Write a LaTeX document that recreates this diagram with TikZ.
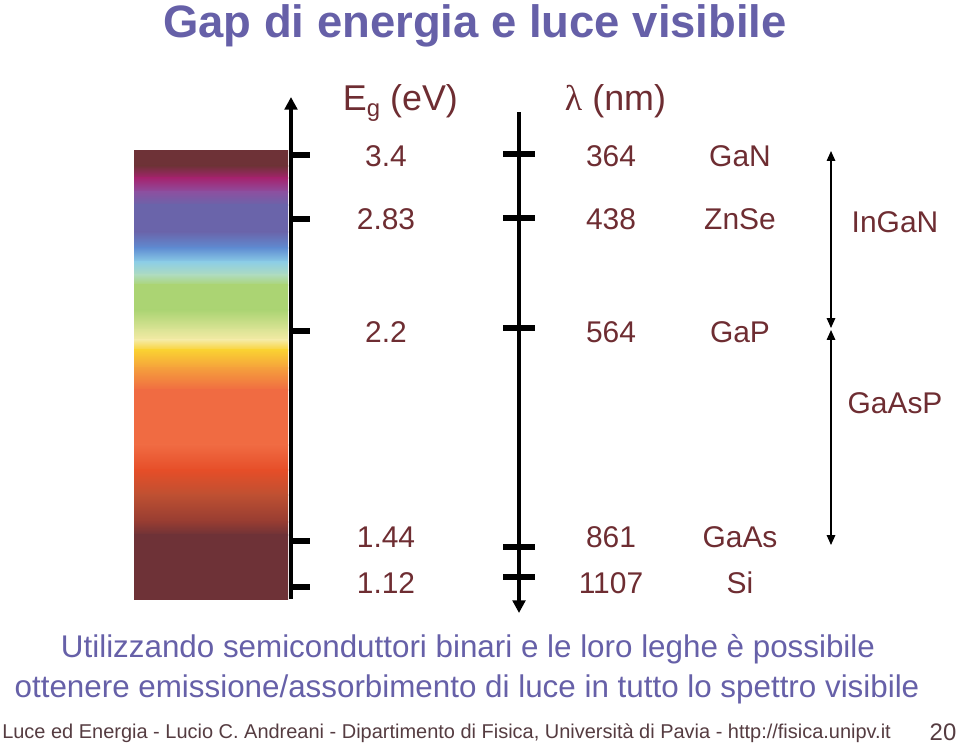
\documentclass[tikz,border=0pt]{standalone}
\usepackage{fontspec}
\setmainfont{Liberation Sans}
\newfontfamily\lamfont{Liberation Serif}
\usetikzlibrary{arrows.meta}
\definecolor{titleblue}{RGB}{102,96,168}
\definecolor{labelred}{RGB}{110,45,50}
\definecolor{footgray}{RGB}{85,60,65}
% spectrum colours
\definecolor{spMaroon}{RGB}{110,50,55}
\definecolor{spMagenta}{RGB}{165,35,110}
\definecolor{spPurple}{RGB}{140,80,160}
\definecolor{spViolet}{RGB}{106,100,170}
\definecolor{spBlue}{RGB}{95,140,210}
\definecolor{spLightBlue}{RGB}{140,205,230}
\definecolor{spCyan}{RGB}{175,220,190}
\definecolor{spGreen}{RGB}{171,212,115}
\definecolor{spLime}{RGB}{220,228,150}
\definecolor{spPale}{RGB}{245,235,165}
\definecolor{spYellow}{RGB}{250,210,50}
\definecolor{spOrange}{RGB}{245,160,60}
\definecolor{spSalmon}{RGB}{240,107,66}
\definecolor{spRed}{RGB}{230,78,40}
\definecolor{spBrownRed}{RGB}{190,80,50}
\definecolor{spBrown}{RGB}{150,60,50}

\begin{document}
\begin{tikzpicture}[x=0.025cm, y=-0.025cm,
  lbl/.style={text=labelred, font=\fontsize{21.3}{25}\selectfont, anchor=base},
  hdr/.style={text=labelred, font=\fontsize{25.5}{30}\selectfont, anchor=base west},
  body/.style={text=titleblue, font=\fontsize{22.3}{26}\selectfont, anchor=base},
  foot/.style={text=footgray, font=\fontsize{14.2}{17}\selectfont},
  axis/.style={line width=3.3pt},
  tickmark/.style={line width=3.6pt},
  rangearrow/.style={line width=1pt,
    {Triangle[length=7pt,width=6pt]}-{Triangle[length=7pt,width=6pt]}}]
  \useasboundingbox (0,0) rectangle (960,746);
  % Title
  \node[anchor=base, text=titleblue, font=\fontsize{32.3}{38}\selectfont\bfseries]
        (title) at (475,37) {Gap di energia e luce visibile};
  % Spectrum
  \foreach \ya/\ca/\yb/\cb in {151/spMaroon/166/spMaroon, 166/spMaroon/178/spMagenta,
      178/spMagenta/192/spPurple, 192/spPurple/205/spViolet, 205/spViolet/232/spViolet,
      232/spViolet/248/spBlue, 248/spBlue/262/spLightBlue, 262/spLightBlue/275/spCyan,
      275/spCyan/285/spGreen, 285/spGreen/310/spGreen, 310/spGreen/330/spLime,
      330/spLime/340/spPale, 340/spPale/350/spYellow, 350/spYellow/368/spOrange,
      368/spOrange/390/spSalmon, 390/spSalmon/445/spSalmon, 445/spSalmon/470/spRed,
      470/spRed/495/spBrownRed, 495/spBrownRed/522/spBrown, 522/spBrown/535/spMaroon,
      535/spMaroon/599/spMaroon}
    \shade[top color=\ca, bottom color=\cb] (134,\ya-0.5) rectangle (288,\yb+0.5);
  % Energy axis
  \coordinate (egBot) at (291,599);
  \coordinate (egTop) at (291,97);
  \draw[axis, -{Triangle[length=9pt,width=9pt]}] (egBot) -- (egTop);
  \foreach \y in {155,219,331,541,587}
    \draw[tickmark] (291,\y) -- (310,\y);
  % Wavelength axis
  \coordinate (lamTop) at (519,112);
  \coordinate (lamBot) at (519,613);
  \draw[axis, -{Triangle[length=9pt,width=9pt]}] (lamTop) -- (lamBot);
  \foreach \y in {154,218,328,547,577}
    \draw[tickmark] (503,\y) -- (535,\y);
  % Headers
  \node[hdr] (egHead) at (338,110) {E\raisebox{-0.35ex}{\fontsize{17}{20}\selectfont g} (eV)};
  \node[hdr] (lamHead) at (560,110) {{\lamfont λ} (nm)};
  % Rows
  \node[lbl] (eg1) at (386,166) {3.4};
  \node[lbl] (lam1) at (611,166) {364};
  \node[lbl] (mat1) at (740,166) {GaN};
  \node[lbl] (eg2) at (386,229) {2.83};
  \node[lbl] (lam2) at (611,229) {438};
  \node[lbl] (mat2) at (740,229) {ZnSe};
  \node[lbl] (eg3) at (386,342) {2.2};
  \node[lbl] (lam3) at (611,342) {564};
  \node[lbl] (mat3) at (740,342) {GaP};
  \node[lbl] (eg4) at (386,547) {1.44};
  \node[lbl] (lam4) at (611,547) {861};
  \node[lbl] (mat4) at (740,547) {GaAs};
  \node[lbl] (eg5) at (386,593) {1.12};
  \node[lbl] (lam5) at (611,593) {1107};
  \node[lbl] (mat5) at (740,593) {Si};
  % Alloy ranges
  \coordinate (rTop) at (831,151);
  \coordinate (rMid) at (831,328);
  \coordinate (rMidB) at (831,330);
  \coordinate (rBot) at (831,545);
  \draw[rangearrow] (rTop) -- (rMid);
  \draw[rangearrow] (rMidB) -- (rBot);
  \node[lbl] (ingan) at (895,232) {InGaN};
  \node[lbl] (gaasp) at (895,413) {GaAsP};
  % Caption
  \node[body] (cap1) at (468,657) {Utilizzando semiconduttori binari e le loro leghe è possibile};
  \node[body] (cap2) at (467,697) {ottenere emissione/assorbimento di luce in tutto lo spettro visibile};
  % Footer
  \node[foot, anchor=base west, inner sep=0pt]
        (footer) at (2,738) {Luce ed Energia - Lucio C. Andreani - Dipartimento di Fisica, Università di Pavia - http://fisica.unipv.it};
  \node[foot, anchor=base, font=\fontsize{17}{20}\selectfont] (page) at (943,740) {20};
\end{tikzpicture}
\end{document}
